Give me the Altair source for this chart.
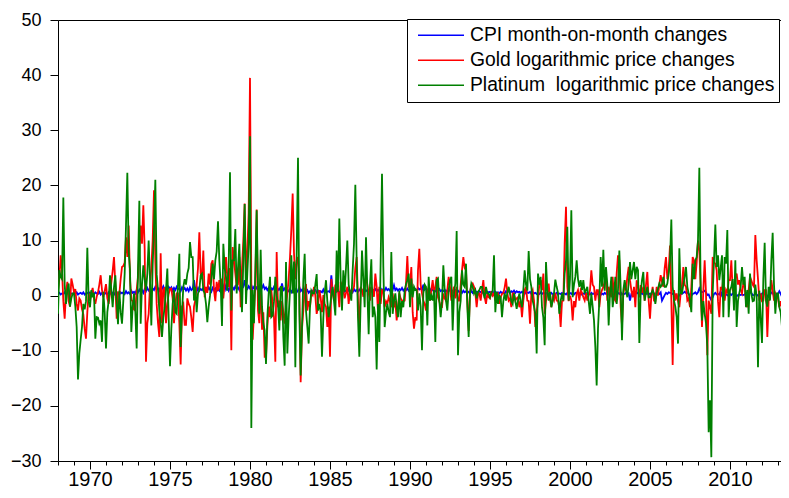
import altair as alt
import pandas as pd

START_YEAR = 1968
SERIES = ["CPI month-on-month changes", "Gold logarithmic price changes", "Platinum\u00a0 logarithmic price changes"]
COLORS = ["#0000FF", "#FF0000", "#008000"]
MAJOR_TICKS = [1970, 1975, 1980, 1985, 1990, 1995, 2000, 2005, 2010]
MINOR_TICKS = list(range(1968, 2014))
Y_TICKS = [-30, -20, -10, 0, 10, 20, 30, 40, 50]

# monthly values, Jan 1968 .. Aug 2013 (12 per row = one year)
cpi = [
    0.3, 0.5, 0.2, 0.4, 0.3, 0.6, 0.2, 0.4, 0.5, 0.2, 0.4, 0.3,
    0.5, 0.3, 0.6, 0.2, 0.4, 0.5, 0.3, 0.6, 0.2, 0.4, 0.5, 0.3,
    0.6, 0.3, 0.5, 0.2, 0.6, 0.4, 0.3, 0.7, 0.2, 0.5, 0.4, 0.3,
    0.5, 0.2, 0.6, 0.3, 0.7, 0.4, 0.2, 0.6, 0.3, 0.5, 0.2, 0.6,
    0.4, 0.6, 0.3, 0.8, 0.4, 0.6, 0.3, 0.9, 0.5, 0.7, 0.4, 1.0,
    0.6, 1.1, 0.7, 1.0, 0.5, 1.2, 0.8, 1.4, 0.9, 1.1, 0.7, 1.3,
    1.0, 1.6, 1.1, 1.3, 0.9, 1.5, 1.2, 1.7, 1.0, 1.4, 1.1, 1.6,
    1.2, 1.5, 0.9, 1.4, 1.0, 1.6, 1.2, 1.3, 0.8, 1.5, 1.1, 1.4,
    0.9, 1.3, 0.8, 1.5, 1.0, 1.2, 2.8, 1.1, 0.7, 1.4, 0.9, 1.2,
    1.0, 1.4, 0.8, 1.3, 0.9, 1.5, 1.1, 0.7, 1.4, 1.0, 1.3, 0.8,
    1.2, 0.9, 1.5, 1.0, 1.3, 2.2, 1.1, 1.6, 0.9, 1.4, 1.0, 1.5,
    1.1, 1.7, 1.2, 1.5, 1.0, 1.8, 1.3, 1.6, 2.8, 1.4, 1.2, 1.7,
    1.3, 1.9, 1.2, 1.6, 1.0, 1.5, 1.2, 1.8, 1.1, 1.4, 1.9, 1.2,
    1.5, 1.0, 1.4, 0.9, 1.3, 1.1, 1.6, 0.8, 1.2, 1.0, 1.3, 0.9,
    2.2, 1.0, 1.3, 0.7, 1.1, 0.8, 1.2, 0.6, 1.0, 0.7, 1.1, 0.6,
    0.9, 1.6, 0.8, 1.1, 0.6, 0.9, 0.7, 1.0, 0.5, 0.8, 0.6, 0.9,
    0.7, 1.0, 0.6, 0.9, 0.5, 0.8, 0.6, 1.1, 0.5, 0.9, 0.7, 0.8,
    0.6, 3.7, 0.8, 0.6, 1.0, 0.7, 0.9, 0.5, 0.8, 0.6, 1.6, 0.7,
    0.9, 0.6, 1.1, 0.7, 1.0, 0.6, 1.2, 0.8, 1.0, 0.7, 1.1, 0.8,
    1.0, 0.7, 1.2, 0.8, 1.0, 0.9, 1.3, 0.8, 1.1, 0.9, 1.2, 0.8,
    1.1, 0.8, 1.3, 0.9, 1.2, 0.9, 1.4, 1.0, 1.2, 0.9, 1.3, 1.0,
    1.9, 1.0, 1.3, 0.9, 1.2, 1.0, 1.4, 0.9, 1.2, 1.0, 1.3, 0.9,
    1.2, 0.9, 1.3, 1.0, 1.2, 0.9, 1.4, 1.1, 1.3, 1.0, 2.0, 1.1,
    1.3, 1.0, 1.2, 0.9, 1.3, 1.0, 1.2, 0.8, 1.1, 0.9, 1.2, 0.8,
    1.0, 0.8, 1.1, 0.7, 1.0, 0.8, 1.1, 0.7, 0.9, 0.7, 1.0, 0.6,
    0.9, 0.6, 0.8, 0.5, 0.9, 0.6, 0.8, 0.5, 0.7, 0.4, 0.9, 0.5,
    0.8, 0.5, 0.7, 0.5, 0.8, 0.6, 0.7, 0.4, 0.8, 0.5, 0.7, 0.6,
    0.7, 0.5, 0.8, 0.4, 0.7, 0.5, 0.6, 0.4, 0.7, 0.5, 0.6, 0.4,
    0.8, 0.6, 0.9, 0.5, 0.8, 0.6, 0.9, 0.5, 0.8, 0.6, 0.7, 0.5,
    0.7, 0.5, 0.8, 0.4, 0.6, 0.5, 0.7, 0.3, 0.6, 0.4, 0.5, 0.3,
    0.5, 0.3, 0.6, 0.3, 0.5, 0.4, 0.5, 0.2, 0.4, 0.3, 0.5, 0.2,
    0.4, 0.3, 0.5, 0.2, 0.4, 0.3, 0.5, 0.3, 0.4, 0.2, 0.5, 0.3,
    0.5, 0.3, 0.6, 0.2, 0.5, 0.4, 0.5, 0.3, 0.6, 0.2, 0.4, 0.3,
    0.5, 0.3, 0.4, 0.2, 0.5, 0.3, 0.4, 0.1, 0.4, 0.2, 0.3, 0.1,
    0.4, 0.2, 0.5, 0.3, 0.4, 0.2, 0.5, 0.3, 0.4, 0.2, 0.4, 0.3,
    0.5, 0.3, 0.6, 0.2, 0.4, 0.3, 0.5, 0.2, 0.4, -0.9, 0.3, 0.2,
    0.5, 0.3, 0.6, 0.4, 0.5, 0.3, 0.4, 0.2, 0.5, 0.3, 0.4, 0.2,
    0.4, 0.3, 0.5, 0.3, 0.4, 0.2, 0.5, 0.3, 0.6, -0.9, -0.4, 0.1,
    0.5, 0.3, 0.6, 0.5, 0.5, 0.3, 0.4, 0.2, -0.2, -0.4, 0.1, 0.3,
    0.3, 0.5, 0.7, 0.5, 0.6, 0.3, 0.2, 0.0, 0.3, 0.4, 0.6, 0.3,
    0.6, 1.3, 0.8, 0.6, 0.7, 0.9, 0.6, 0.1, 0.2, -0.4, -0.8, -0.3,
    0.3, 0.5, 0.2, 0.3, 0.2, 0.8, 0.0, 0.3, 0.1, 0.2, 0.1, -0.1,
    0.3, 0.1, 0.4, 0.2, 0.0, -0.1, 0.1, 0.2, 0.1, 0.2, 0.1, 0.2,
    0.5, 0.4, 1.0, 0.6, 0.5, 0.1, 0.1, 0.3, 0.2, 0.0, 0.1, 0.0,
    0.4, 0.5, 0.8, 0.3, -0.1, 0.0, 0.1, 0.6, 0.5, 0.0, -0.5, 0.0,
    0.3, 0.8, 0.3, -0.2, 0.2, 0.2, 0.1, 0.1,
]

gold = [
    1.0, 3.0, 7.3, 4.6, -1.0, -4.2, 0.5, 2.5, -1.0, -2.0, 3.1, 2.0,
    0.6, 1.2, -1.5, -2.7, -0.5, -0.9, -2.5, -3.4, -6.0, -7.8, -3.0, 0.5,
    -0.9, 0.5, 1.4, -0.5, -1.5, -0.2, 0.6, 2.0, 3.7, 1.0, -0.3, 0.8,
    2.1, -0.5, -1.5, 0.5, 2.4, 4.5, 7.0, 2.0, -4.2, 0.5, 0.3, 3.0,
    5.2, 5.4, 6.0, 10.6, 7.0, 12.7, 3.0, -0.8, -1.0, -2.5, -2.7, 1.0,
    3.4, 8.0, 12.7, 9.4, 16.4, 8.5, -12.0, -5.0, -3.3, 2.0, 5.0, 10.0,
    19.1, 6.0, -1.5, -5.0, -7.5, 7.7, -5.0, 1.0, 1.5, -5.0, -1.5, 0.3,
    1.2, 1.3, -0.5, -5.0, -1.5, 0.4, 0.4, -5.0, -12.5, -2.0, -1.5, -5.3,
    -5.3, -0.5, -1.5, -2.0, -4.0, -6.6, -2.0, -0.8, 2.0, 5.0, 11.5, 4.0,
    3.0, 8.2, -0.3, 1.6, 0.5, 4.0, 2.0, 5.8, 6.4, 1.0, -1.0, 2.5,
    0.9, 2.8, 1.0, 3.1, -0.5, 2.2, 7.0, 3.5, 1.6, 5.0, -9.9, 8.8,
    6.4, 4.0, 1.6, 2.0, 7.0, -2.1, 5.0, 10.0, 16.7, 3.0, 8.0, 15.0,
    39.5, 2.0, -8.0, -3.0, 2.0, 15.6, -2.7, -5.0, 4.0, -6.2, -3.0, -11.1,
    -11.1, -5.7, -2.0, -3.9, 1.0, -1.5, -4.0, -12.0, 7.9, -2.1, -0.9, -4.5,
    -1.0, -3.0, -5.1, -2.0, 0.3, 3.0, 7.0, 12.0, 18.5, 7.7, 3.0, 6.4,
    7.0, 2.0, -15.7, -6.0, -2.7, 1.0, 2.1, -2.7, -1.0, -2.1, 0.5, 0.1,
    1.6, 0.0, -3.3, -2.1, 1.0, -0.3, -3.0, 0.1, -1.5, -2.0, -5.7, -2.0,
    -11.1, 3.0, 0.4, -0.9, 2.0, 0.9, 1.0, -2.1, 2.5, 1.6, 1.0, -0.5,
    0.5, 1.6, -1.5, 0.8, 0.4, 1.0, 1.6, 5.0, 7.0, -0.9, -6.6, 1.6,
    1.0, -0.2, 1.6, 3.4, 2.0, 0.4, -0.9, 1.6, 1.0, -0.2, 4.0, 1.6,
    -3.0, 1.6, -1.5, 1.0, 0.9, -2.1, -1.0, -1.5, -0.3, -1.0, -2.1, 0.4,
    -2.1, -1.0, -4.5, -2.0, 0.4, -0.5, -0.9, -1.0, -0.9, 2.2, 7.2, 1.6,
    1.6, 5.2, -3.0, -6.0, -3.9, -4.5, 4.6, 8.5, 2.0, 0.4, -0.9, -1.5,
    -2.7, 0.4, 1.6, -0.9, 1.0, 2.8, 0.4, 1.6, 3.4, -0.3, -1.0, -2.1,
    -2.1, 0.4, -0.5, -0.9, 1.0, 3.4, 1.6, -0.9, 0.5, 1.6, -0.5, 1.6,
    -0.9, -0.9, 2.0, 4.6, 7.0, 5.0, 4.6, -0.9, -6.4, 0.5, 1.9, 2.2,
    1.6, 0.5, -2.1, 0.4, 0.4, -0.9, 1.0, 2.8, -0.3, -1.5, 0.4, -0.3,
    -0.5, 0.8, 0.0, 0.4, -0.9, 0.2, 0.4, -1.5, -0.3, 0.3, 0.4, 1.5,
    3.1, 0.5, -0.9, -0.5, -2.1, 0.4, 0.4, -0.9, -0.5, -0.3, -2.1, -1.0,
    -3.9, -0.9, 1.0, 1.6, -0.9, -1.0, -5.1, 0.4, 1.0, -0.9, -5.7, -3.0,
    -0.9, 2.0, 2.8, 1.0, 4.0, -3.3, -1.0, 0.4, 2.2, -0.5, -2.1, -0.3,
    -0.9, 0.5, -0.9, -1.0, -2.1, -5.7, -1.0, -0.9, 9.4, 16.1, 1.6, -1.0,
    0.0, -0.9, -4.5, -1.0, -2.1, 0.4, 1.0, -0.9, 1.0, 0.5, -0.3, -0.9,
    0.5, -0.9, 0.0, 1.0, 4.6, 2.0, 1.6, -0.9, 1.0, 1.0, -2.1, 0.4,
    1.0, 1.6, 2.5, 3.7, -0.9, 1.6, 0.5, -0.3, 3.4, -0.5, -0.9, 4.0,
    7.3, 6.4, -2.0, -5.4, 0.4, 1.6, 1.0, 3.4, 5.2, 2.8, 1.0, -0.3,
    1.6, -2.1, 2.8, 1.6, -0.3, 1.9, 0.5, 1.6, -0.9, 2.0, 4.3, -0.9,
    -4.2, 0.0, 1.6, -0.9, -1.0, 1.6, 0.0, 2.0, 3.7, 2.5, 1.6, 5.0,
    7.0, 3.0, 4.6, 9.1, -0.9, -12.6, 1.0, -0.9, 0.4, -1.0, -2.1, 0.4,
    2.0, 5.2, 2.0, 1.6, -0.9, -0.5, -2.1, 1.6, 7.0, 6.4, 3.0, 6.0,
    10.0, 8.2, 1.6, -5.7, 1.0, 6.4, 0.4, -10.8, -0.9, -2.0, -3.3, 7.0,
    6.0, 5.8, 4.6, -1.0, -3.9, 1.6, 1.0, 3.4, -0.9, 1.0, 0.4, 2.8,
    2.8, 6.4, 1.0, 0.4, 3.4, 4.0, 2.0, 2.8, 1.0, 0.4, 2.2, 1.6,
    -1.0, -2.1, 1.0, 3.4, 2.8, 2.0, 1.6, 11.0, 6.4, 3.0, -0.9, 0.4,
    -1.0, -0.9, 1.0, 1.0, -7.5, -0.9, -0.5, 2.8, 1.0, -0.9, 0.4, -0.3,
    -0.5, -2.1, -1.0, -2.1, -6.9, -4.5, -3.3, -2.0,
]

platinum = [
    -3.3, 4.6, 3.4, 3.0, 17.8, 2.0, -1.5, 1.0, 2.2, -2.0, -0.5, 0.4,
    0.4, -2.0, -5.7, -15.2, -10.5, -8.0, -5.7, -1.5, -2.5, -1.0, 8.7, -1.0,
    -2.1, 1.0, -0.3, 0.5, -7.8, -3.9, -4.0, -5.1, -4.5, -8.4, 0.7, -3.0,
    -9.6, -3.0, -0.9, 3.7, 1.0, -2.1, 1.5, 3.7, -1.0, -5.2, 0.9, -3.0,
    -5.1, -0.9, 4.0, 12.7, 22.3, 8.0, 4.6, -6.6, -2.0, 0.4, -3.0, -9.6,
    5.0, 17.2, -5.1, 2.0, 5.5, 3.0, 0.9, 4.0, 10.0, 3.0, -5.4, 5.5,
    12.0, 21.0, 3.9, 1.0, -2.7, -5.0, -7.5, -4.0, -2.1, 1.0, 4.9, -4.0,
    -12.8, -6.0, -1.5, 1.0, -3.0, -3.3, 2.0, 7.6, -9.3, -3.0, 1.6, 3.0,
    2.0, 4.0, 5.0, 9.7, 7.0, 7.0, -0.9, 1.6, -3.0, 0.4, 1.0, 3.7,
    4.0, 1.0, 0.4, -1.5, -4.8, -2.0, 0.0, 3.0, 5.8, 3.0, 6.4, 8.0,
    13.5, 6.4, 2.0, -5.5, 9.4, 5.0, 3.4, 0.9, 5.0, 22.4, -2.7, 6.4,
    6.4, 12.1, 0.4, 5.0, 9.4, 2.0, -3.0, 6.4, 16.6, -1.5, 4.0, 9.4,
    28.9, -24.0, 1.0, -5.0, 4.6, 15.5, 2.0, -3.3, 8.3, -2.0, -5.1, -6.3,
    -12.4, -4.0, 0.4, 3.4, -3.9, -3.6, -1.0, 3.4, 0.0, -1.5, -6.3, 1.6,
    1.6, -7.5, -12.7, 6.1, -10.5, -3.9, 1.0, 7.3, 0.4, 6.2, -13.0, 7.5,
    25.0, -3.0, -14.5, -5.7, 2.8, 7.6, -2.7, -5.7, -8.7, -2.0, 0.9, 0.4,
    0.4, 2.0, 3.9, -2.7, -1.5, -3.0, -11.1, -4.0, 0.4, 2.8, -1.0, -3.9,
    -2.1, 0.0, 1.6, -1.0, -3.6, 8.2, 0.7, 14.0, 3.0, -2.7, 4.6, 0.7,
    5.0, 10.0, 2.0, 0.4, -0.9, 4.6, 9.4, 20.1, 6.4, -4.0, -11.1, -0.9,
    8.2, 3.0, -2.1, 10.6, 1.0, -7.0, 2.0, 6.6, -3.9, -2.0, -3.9, -13.4,
    -1.5, -8.4, 6.4, 22.1, 5.2, -5.7, -3.0, -1.5, -3.0, -3.9, 7.9, -3.3,
    -1.0, 0.4, -2.0, -3.9, 0.9, -3.9, -1.0, -2.1, 0.9, 2.0, 2.8, 4.0,
    -2.1, 3.1, -0.3, 1.6, 1.0, 1.0, -2.7, 0.4, -2.0, -9.9, 0.4, 2.0,
    1.6, -5.4, 3.4, -0.9, 0.0, -0.9, 1.0, -8.4, 2.8, 3.1, -1.0, -3.9,
    -1.0, 5.5, 1.0, -0.9, -2.7, 1.0, 2.8, 3.4, -6.3, 0.4, 2.2, 11.7,
    -10.8, -3.0, -0.9, 4.6, 2.0, 1.6, 5.8, -2.0, -7.5, 0.5, 2.2, 1.6,
    0.4, 1.0, -0.5, 0.7, 1.0, 1.6, 1.6, 0.5, -0.5, 1.6, 0.4, 0.4,
    -0.3, 0.5, 0.9, 7.3, -3.0, 0.7, -1.5, 0.0, -0.3, -3.9, -1.0, 0.4,
    -0.9, 0.5, 1.6, 0.4, -1.0, -1.5, 0.4, -1.0, -2.4, -0.9, 0.4, -1.0,
    -2.1, 1.0, 4.6, 2.0, 0.9, 8.1, 3.0, 1.6, -0.9, -2.0, -3.3, -10.5,
    4.0, 2.0, 3.4, -2.1, -4.0, -9.0, 6.1, 1.0, -0.9, 0.7, -2.1, -1.0,
    0.4, 2.9, 1.6, 0.5, -3.3, -1.0, 0.4, -0.9, 4.0, 6.4, 12.5, -0.9,
    3.0, 15.5, -0.3, 2.0, 3.4, 6.4, 3.0, 1.6, 2.8, 1.0, 2.8, 0.4,
    1.0, 1.6, -1.0, -3.3, 0.4, -2.0, -4.5, -9.3, -16.3, -6.0, -0.9, 7.0,
    1.6, 8.3, 0.9, 5.2, 2.0, -5.4, 0.5, 3.4, -2.1, 0.0, 3.4, -1.5,
    1.0, 8.2, 1.3, -8.1, 1.0, 2.8, 1.0, -0.3, 2.2, 6.1, 3.0, 4.6,
    6.1, 3.0, 5.2, 4.6, -8.6, 0.4, 2.8, 4.3, -0.9, 0.5, 1.6, -0.3,
    -0.3, 0.4, 1.0, 0.4, -1.5, 0.5, 1.3, 2.2, 1.6, 2.0, 3.4, 1.6,
    1.6, 2.2, 4.0, 6.4, 13.8, 1.6, -0.9, -2.0, -3.9, -8.7, 8.6, 0.4,
    0.4, 2.0, 3.4, 5.2, 1.6, 0.4, -0.9, -3.0, 5.8, 3.0, 6.4, 7.0,
    10.0, 23.2, 0.9, -4.5, -1.0, -3.3, -5.0, -9.3, -24.8, -19.0, -29.3, 0.4,
    6.4, 12.9, 5.2, 7.3, 2.8, 5.0, 7.3, -3.9, 7.0, 5.8, 11.9, -3.9,
    1.0, 1.6, 3.0, -2.7, 6.4, -5.7, -0.9, 0.5, 1.6, 5.2, 2.0, 3.4,
    -2.1, 1.0, -3.3, 4.0, 0.4, -1.0, -0.9, 2.0, -0.3, -13.0, 0.9, -4.0,
    -8.6, 3.0, 9.6, -0.9, -2.0, 1.6, -0.9, 6.4, 11.4, 2.0, -3.3, 0.4,
    0.4, -2.1, -3.0, -5.7, -4.5, -5.1, 0.4, 6.4,
]

rows = []
for name, vals in zip(SERIES, [cpi, gold, platinum]):
    for i, v in enumerate(vals):
        rows.append({"series": name, "t": START_YEAR + i / 12.0, "value": v})
df = pd.DataFrame(rows)

FONT = "Liberation Sans, Arial, sans-serif"
NARROW = "Liberation Sans Narrow, Arial Narrow, Liberation Sans, sans-serif"

PLOT_W = 723
x_scale = alt.Scale(domain=[1968, 1968 + PLOT_W / 16.0], nice=False, zero=False)
y_scale = alt.Scale(domain=[-30, 50], nice=False, zero=False)
color_scale = alt.Scale(domain=SERIES, range=COLORS)

y_axis = alt.Axis(values=Y_TICKS, title=None, grid=False, tickSize=8, labelPadding=9,
                  labelFont=FONT, labelFontSize=18, labelColor="black",
                  domainColor="black", tickColor="black", labelFlush=False)
x_major = alt.Axis(values=MAJOR_TICKS, format="d", title=None, grid=False, tickSize=8,
                   labelPadding=0, labelFont=NARROW, labelFontSize=20, labelColor="black",
                   domainColor="black", tickColor="black", labelFlush=False, orient="bottom")
x_minor = alt.Axis(values=MINOR_TICKS, title=None, grid=False, tickSize=4, labels=False,
                   domain=False, tickColor="black", orient="bottom")
x_top = alt.Axis(title=None, grid=False, ticks=False, labels=False, domain=True,
                 domainColor="black", orient="top")

legend = alt.Legend(orient="none", legendX=349, legendY=-1, title=None,
                    symbolType="stroke", symbolSize=2116, symbolStrokeWidth=1.3,
                    symbolOffset=6, labelOffset=5, clipHeight=24.5, rowPadding=0,
                    padding=4, strokeColor="black", fillColor="white",
                    labelFont=FONT, labelFontSize=19.3, labelColor="black", labelLimit=0)

def layer(name, xaxis):
    return alt.Chart(df).transform_filter(alt.datum.series == name).mark_line(
        strokeWidth=1.8, clip=True
    ).encode(
        x=alt.X("t:Q", scale=x_scale, axis=xaxis),
        y=alt.Y("value:Q", scale=y_scale, axis=y_axis),
        color=alt.Color("series:N", scale=color_scale, legend=legend),
    )

chart = alt.layer(
    layer(SERIES[0], x_major),
    layer(SERIES[1], x_minor),
    layer(SERIES[2], x_top),
).resolve_axis(x="independent").properties(
    width=PLOT_W, height=441,
    autosize=alt.AutoSizeParams(type="none"),
    padding={"left": 50, "top": 12, "right": 0, "bottom": 29},
    background="white",
).configure_view(strokeWidth=0)

chart.save("out.html", embed_options={"renderer": "svg", "actions": False})
